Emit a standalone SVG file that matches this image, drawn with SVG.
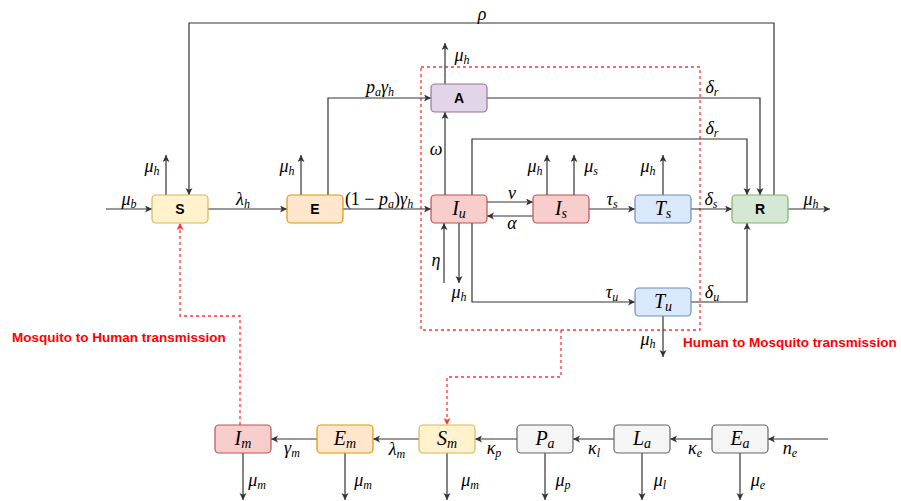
<svg xmlns="http://www.w3.org/2000/svg" width="901" height="501" viewBox="0 0 901 501">
<style>
.box{stroke-width:1.2}
.lb{font-family:"Liberation Sans",Arial,sans-serif;font-weight:bold;font-size:14px;text-anchor:middle;fill:#000}
.nm{font-family:"Liberation Serif","Times New Roman",serif;font-style:italic;font-size:20px;text-anchor:middle;fill:#000}
.m{font-family:"Liberation Serif","Times New Roman",serif;font-style:italic;font-size:18px;text-anchor:middle;fill:#000}
.up{font-style:normal}
.s{font-size:12px}
.ns{font-size:14px}
.c{fill:none;stroke:#333;stroke-width:1.2}
.r{fill:none;stroke:#ff3333;stroke-width:1.3;stroke-dasharray:3 3}
.red{font-family:"Liberation Sans",Arial,sans-serif;font-weight:bold;font-size:13.5px;fill:#ff0000}
</style>
<defs>
<marker id="a" markerUnits="userSpaceOnUse" markerWidth="10" markerHeight="10" refX="7" refY="3.5" orient="auto">
<path d="M0,0 L7,3.5 L0,7 L1.8,3.5 z" fill="#333"/>
</marker>
<marker id="ar" markerUnits="userSpaceOnUse" markerWidth="10" markerHeight="10" refX="7" refY="3.5" orient="auto">
<path d="M0,0 L7,3.5 L0,7 L1.8,3.5 z" fill="#ff3333"/>
</marker>
</defs>
<rect width="901" height="501" fill="#fff"/>
<rect x="421" y="67" width="279" height="263" class="r"/>
<g id="connectors">
<path class="c" marker-end="url(#a)" d="M106,209 H152"/>
<path class="c" marker-end="url(#a)" d="M208,209 H287"/>
<path class="c" marker-end="url(#a)" d="M343,209 H431"/>
<path class="c" marker-end="url(#a)" d="M166,195 V155"/>
<path class="c" marker-end="url(#a)" d="M301,195 V155"/>
<path class="c" marker-end="url(#a)" d="M328,195 V98 H431"/>
<path class="c" marker-end="url(#a)" d="M774,195 V23 H189 V195"/>
<path class="c" marker-end="url(#a)" d="M445,84 V43"/>
<path class="c" marker-end="url(#a)" d="M445,195 V112"/>
<path class="c" marker-end="url(#a)" d="M487,98 H760 V195"/>
<path class="c" marker-end="url(#a)" d="M472,195 V139 H747 V195"/>
<path class="c" marker-end="url(#a)" d="M487,202 H533"/>
<path class="c" marker-end="url(#a)" d="M533,216 H487"/>
<path class="c" marker-end="url(#a)" d="M547,195 V155"/>
<path class="c" marker-end="url(#a)" d="M574,195 V155"/>
<path class="c" marker-end="url(#a)" d="M589,209 H635"/>
<path class="c" marker-end="url(#a)" d="M663,195 V155"/>
<path class="c" marker-end="url(#a)" d="M691,209 H732"/>
<path class="c" marker-end="url(#a)" d="M788,209 H830"/>
<path class="c" marker-end="url(#a)" d="M444,283 V223"/>
<path class="c" marker-end="url(#a)" d="M459,223 V283"/>
<path class="c" marker-end="url(#a)" d="M472,223 V302 H635"/>
<path class="c" marker-end="url(#a)" d="M691,302 H747 V223"/>
<path class="c" marker-end="url(#a)" d="M663,316 V357"/>
<path class="c" marker-end="url(#a)" d="M828,439 H768"/>
<path class="c" marker-end="url(#a)" d="M712,439 H670"/>
<path class="c" marker-end="url(#a)" d="M614,439 H573"/>
<path class="c" marker-end="url(#a)" d="M517,439 H475"/>
<path class="c" marker-end="url(#a)" d="M419,439 H373"/>
<path class="c" marker-end="url(#a)" d="M317,439 H271"/>
<path class="c" marker-end="url(#a)" d="M243,453 V500"/>
<path class="c" marker-end="url(#a)" d="M345,453 V500"/>
<path class="c" marker-end="url(#a)" d="M447,453 V500"/>
<path class="c" marker-end="url(#a)" d="M545,453 V500"/>
<path class="c" marker-end="url(#a)" d="M642,453 V500"/>
<path class="c" marker-end="url(#a)" d="M740,453 V500"/>
<path class="r" marker-end="url(#ar)" d="M561,330 V377 H447 V425"/>
<path class="r" marker-end="url(#ar)" d="M240,425 V316 H180 V223"/>
</g>
<g id="edge-labels">
<text class="m" x="129" y="205">μ<tspan class="s" dy="3">b</tspan></text>
<text class="m" x="243" y="205">λ<tspan class="s" dy="3">h</tspan></text>
<text class="m" x="379" y="205"><tspan class="up">(1 − </tspan>p<tspan class="s" dy="3">a</tspan><tspan class="up" dy="-3">)</tspan>γ<tspan class="s" dy="3">h</tspan></text>
<text class="m" x="380" y="93">p<tspan class="s" dy="3">a</tspan><tspan dy="-3">γ</tspan><tspan class="s" dy="3">h</tspan></text>
<text class="m" x="482" y="20">ρ</text>
<text class="m" x="152" y="172">μ<tspan class="s" dy="3">h</tspan></text>
<text class="m" x="287" y="172">μ<tspan class="s" dy="3">h</tspan></text>
<text class="m" x="462" y="61">μ<tspan class="s" dy="3">h</tspan></text>
<text class="m" x="436" y="155">ω</text>
<text class="m" x="712" y="93">δ<tspan class="s" dy="3">r</tspan></text>
<text class="m" x="712" y="134">δ<tspan class="s" dy="3">r</tspan></text>
<text class="m" x="535" y="172">μ<tspan class="s" dy="3">h</tspan></text>
<text class="m" x="591" y="172">μ<tspan class="s" dy="3">s</tspan></text>
<text class="m" x="648" y="172">μ<tspan class="s" dy="3">h</tspan></text>
<text class="m" x="512" y="199">ν</text>
<text class="m" x="512" y="229">α</text>
<text class="m" x="612" y="205">τ<tspan class="s" dy="3">s</tspan></text>
<text class="m" x="711" y="205">δ<tspan class="s" dy="3">s</tspan></text>
<text class="m" x="811" y="205">μ<tspan class="s" dy="3">h</tspan></text>
<text class="m" x="436" y="266">η</text>
<text class="m" x="459" y="298">μ<tspan class="s" dy="3">h</tspan></text>
<text class="m" x="612" y="298">τ<tspan class="s" dy="3">u</tspan></text>
<text class="m" x="712" y="298">δ<tspan class="s" dy="3">u</tspan></text>
<text class="m" x="648" y="345">μ<tspan class="s" dy="3">h</tspan></text>
<text class="m" x="292" y="454">γ<tspan class="s" dy="3">m</tspan></text>
<text class="m" x="397" y="455">λ<tspan class="s" dy="3">m</tspan></text>
<text class="m" x="494" y="454">κ<tspan class="s" dy="3">p</tspan></text>
<text class="m" x="594" y="454">κ<tspan class="s" dy="3">l</tspan></text>
<text class="m" x="695" y="454">κ<tspan class="s" dy="3">e</tspan></text>
<text class="m" x="790" y="454">n<tspan class="s" dy="3">e</tspan></text>
<text class="m" x="257" y="486">μ<tspan class="s" dy="3">m</tspan></text>
<text class="m" x="363" y="486">μ<tspan class="s" dy="3">m</tspan></text>
<text class="m" x="470" y="486">μ<tspan class="s" dy="3">m</tspan></text>
<text class="m" x="563" y="486">μ<tspan class="s" dy="3">p</tspan></text>
<text class="m" x="660" y="486">μ<tspan class="s" dy="3">l</tspan></text>
<text class="m" x="758" y="486">μ<tspan class="s" dy="3">e</tspan></text>
<text class="red" x="683" y="347">Human to Mosquito transmission</text>
<text class="red" x="12" y="342">Mosquito to Human transmission</text>
</g>
<g id="S"><rect class="box" x="152" y="195" width="56" height="28" rx="4" fill="#fff2cc" stroke="#d6b656"/><text class="lb" x="180" y="214">S</text></g>
<g id="E"><rect class="box" x="287" y="195" width="56" height="28" rx="4" fill="#ffe6cc" stroke="#d79b00"/><text class="lb" x="315" y="214">E</text></g>
<g id="A"><rect class="box" x="431" y="84" width="56" height="28" rx="4" fill="#e1d5e7" stroke="#9673a6"/><text class="lb" x="459" y="103">A</text></g>
<g id="Iu"><rect class="box" x="431" y="195" width="56" height="28" rx="4" fill="#f8cecc" stroke="#b85450"/><text class="nm" x="459" y="215">I<tspan class="ns" dy="3">u</tspan></text></g>
<g id="Is"><rect class="box" x="533" y="195" width="56" height="28" rx="4" fill="#f8cecc" stroke="#b85450"/><text class="nm" x="561" y="215">I<tspan class="ns" dy="3">s</tspan></text></g>
<g id="Ts"><rect class="box" x="635" y="195" width="56" height="28" rx="4" fill="#dae8fc" stroke="#6c8ebf"/><text class="nm" x="663" y="215">T<tspan class="ns" dy="3">s</tspan></text></g>
<g id="R"><rect class="box" x="732" y="195" width="56" height="28" rx="4" fill="#d5e8d4" stroke="#82b366"/><text class="lb" x="760" y="214">R</text></g>
<g id="Tu"><rect class="box" x="635" y="288" width="56" height="28" rx="4" fill="#dae8fc" stroke="#6c8ebf"/><text class="nm" x="663" y="308">T<tspan class="ns" dy="3">u</tspan></text></g>
<g id="Im"><rect class="box" x="215" y="425" width="56" height="28" rx="4" fill="#f8cecc" stroke="#b85450"/><text class="nm" x="243" y="445">I<tspan class="ns" dy="3">m</tspan></text></g>
<g id="Em"><rect class="box" x="317" y="425" width="56" height="28" rx="4" fill="#ffe6cc" stroke="#d79b00"/><text class="nm" x="345" y="445">E<tspan class="ns" dy="3">m</tspan></text></g>
<g id="Sm"><rect class="box" x="419" y="425" width="56" height="28" rx="4" fill="#fff2cc" stroke="#d6b656"/><text class="nm" x="447" y="445">S<tspan class="ns" dy="3">m</tspan></text></g>
<g id="Pa"><rect class="box" x="517" y="425" width="56" height="28" rx="4" fill="#f5f5f5" stroke="#666666"/><text class="nm" x="545" y="445">P<tspan class="ns" dy="3">a</tspan></text></g>
<g id="La"><rect class="box" x="614" y="425" width="56" height="28" rx="4" fill="#f5f5f5" stroke="#666666"/><text class="nm" x="642" y="445">L<tspan class="ns" dy="3">a</tspan></text></g>
<g id="Ea"><rect class="box" x="712" y="425" width="56" height="28" rx="4" fill="#f5f5f5" stroke="#666666"/><text class="nm" x="740" y="445">E<tspan class="ns" dy="3">a</tspan></text></g>
</svg>
